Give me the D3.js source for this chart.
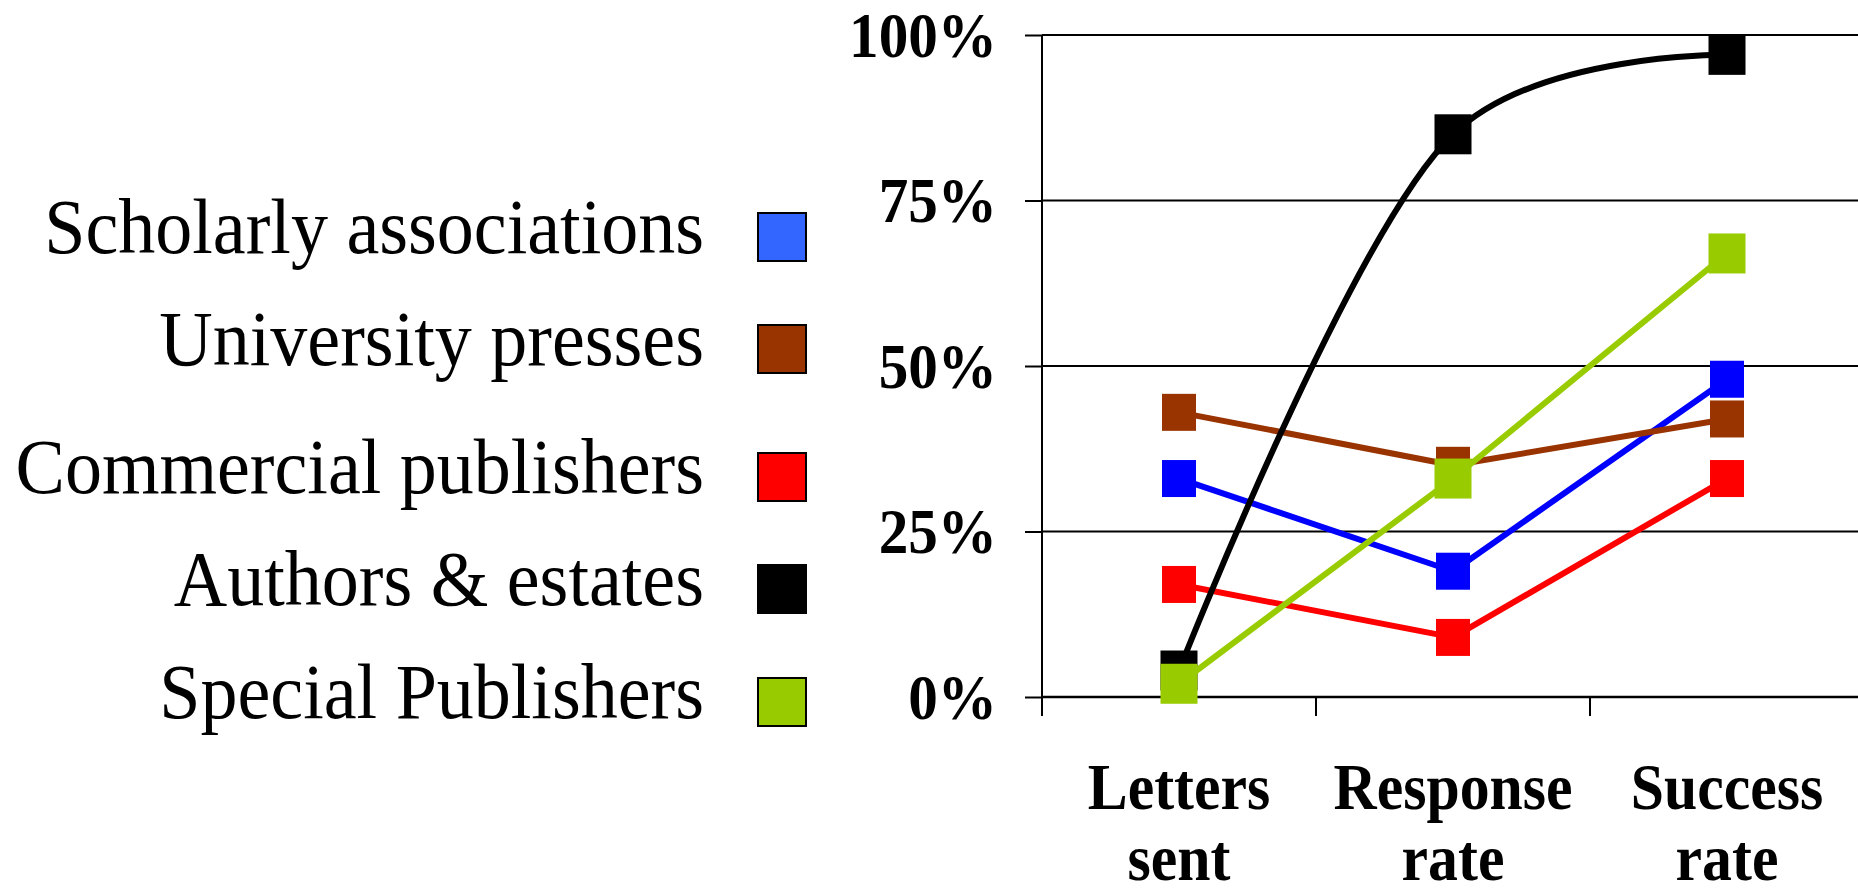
<!DOCTYPE html>
<html>
<head>
<meta charset="utf-8">
<script src="https://cdn.jsdelivr.net/npm/d3@7"></script>
<style>
  html, body { margin: 0; padding: 0; background: #ffffff; }
  svg { display: block; }
  text { font-family: "Liberation Serif", "Times New Roman", serif; fill: #000; }
</style>
</head>
<body>
<svg id="chart" width="1858" height="888"></svg>
<script>
// ---- data ----
const categories = ["Letters sent", "Response rate", "Success rate"];
const seriesNames = ["Scholarly associations", "University presses", "Commercial publishers", "Authors & estates", "Special Publishers"];
const scholarly  = [33, 19, 48];
const university = [43, 35, 42];
const commercial = [17,  9, 33];
const authors    = [ 4, 85, 97];
const special    = [ 2, 33, 67];
const yTicks = [0, 25, 50, 75, 100];

// ---- styling ----
const lineColors   = ["#0000FF", "#993300", "#FF0000", "#000000", "#99CC00"];
const legendColors = ["#3366FF", "#993300", "#FF0000", "#000000", "#99CC00"];
const markerSize   = [[34, 37], [34, 37], [34, 37], [37, 40], [37, 40]];
const smoothed     = [false, false, false, true, false];

const series = seriesNames.map((name, i) => ({
  name,
  values: [scholarly, university, commercial, authors, special][i],
  color: lineColors[i],
  swatch: legendColors[i],
  size: markerSize[i],
  smooth: smoothed[i]
}));

const svg = d3.select("#chart");
const W = 1858;

const x = d3.scaleBand().domain(categories).range([1042, 1864]);
const y = d3.scaleLinear().domain([0, 100]).range([697, 35]);

// horizontal gridlines
svg.append("g").selectAll("line")
  .data(yTicks)
  .join("line")
  .attr("x1", 1042).attr("x2", W)
  .attr("y1", d => y(d)).attr("y2", d => y(d))
  .attr("stroke", "#000")
  .attr("stroke-width", d => d === 0 ? 2.6 : 2);

// y axis: ticks from the axis generator, percent labels slightly tall
const yAxis = svg.append("g")
  .attr("transform", "translate(1042,0)")
  .call(d3.axisLeft(y).tickValues(yTicks).tickFormat(d => d + "%").tickSize(17).tickPadding(28));
yAxis.select(".domain").remove();
yAxis.selectAll(".tick line").attr("stroke", "#000").attr("stroke-width", 2);
yAxis.selectAll(".tick text")
  .attr("x", null).attr("dy", null)
  .attr("transform", "translate(-45,21) scale(1.02,1.1)")
  .style("font-family", "'Liberation Serif', 'Times New Roman', serif")
  .style("font-weight", "bold")
  .style("font-size", "58px");

// vertical axis line
svg.append("line")
  .attr("x1", 1042).attr("x2", 1042)
  .attr("y1", y(100)).attr("y2", y(0) + 19)
  .attr("stroke", "#000").attr("stroke-width", 2);

// category boundary ticks
const bounds = categories.map(c => x(c)).concat([x.range()[1]]);
svg.append("g").selectAll("line")
  .data(bounds)
  .join("line")
  .attr("x1", d => d).attr("x2", d => d)
  .attr("y1", y(0)).attr("y2", y(0) + 19)
  .attr("stroke", "#000").attr("stroke-width", 2);

// category labels (two lines each)
const xl = svg.append("g").selectAll("g")
  .data(categories)
  .join("g")
  .attr("transform", d => `translate(${x(d) + x.bandwidth() / 2},0)`);
xl.selectAll("text")
  .data(d => d.split(" "))
  .join("text")
  .attr("text-anchor", "middle")
  .attr("transform", (d, i) => `translate(0,${809 + i * 71}) scale(1.03,1.14)`)
  .style("font-weight", "bold")
  .style("font-size", "58px")
  .text(d => d);

// series lines and markers
const line = d3.line()
  .x((d, i) => x(categories[i]) + x.bandwidth() / 2)
  .y(d => y(d));

const sg = svg.append("g").selectAll("g")
  .data(series)
  .join("g");

sg.each(function(s) {
  const g = d3.select(this);
  g.append("path")
    .attr("d", line.curve(s.smooth ? d3.curveCatmullRom.alpha(0.25) : d3.curveLinear)(s.values))
    .attr("fill", "none")
    .attr("stroke", s.color)
    .attr("stroke-width", 6)
    .attr("stroke-linejoin", "round");
  g.selectAll("rect")
    .data(s.values)
    .join("rect")
    .attr("x", (d, i) => x(categories[i]) + x.bandwidth() / 2 - s.size[0] / 2)
    .attr("y", d => y(d) - s.size[1] / 2)
    .attr("width", s.size[0])
    .attr("height", s.size[1])
    .attr("fill", s.color);
});

// legend
const legendRowY = [237, 349, 477, 589, 702];
const lg = svg.append("g").selectAll("g")
  .data(series)
  .join("g")
  .attr("transform", (d, i) => `translate(0,${legendRowY[i]})`);
lg.append("text")
  .attr("text-anchor", "end")
  .attr("transform", "translate(704,16) scale(1,1.06)")
  .style("font-size", "74px")
  .text(d => d.name);
lg.append("rect")
  .attr("x", 758).attr("y", -24)
  .attr("width", 48).attr("height", 48)
  .attr("fill", d => d.swatch)
  .attr("stroke", "#000")
  .attr("stroke-width", 2);
</script>
</body>
</html>
